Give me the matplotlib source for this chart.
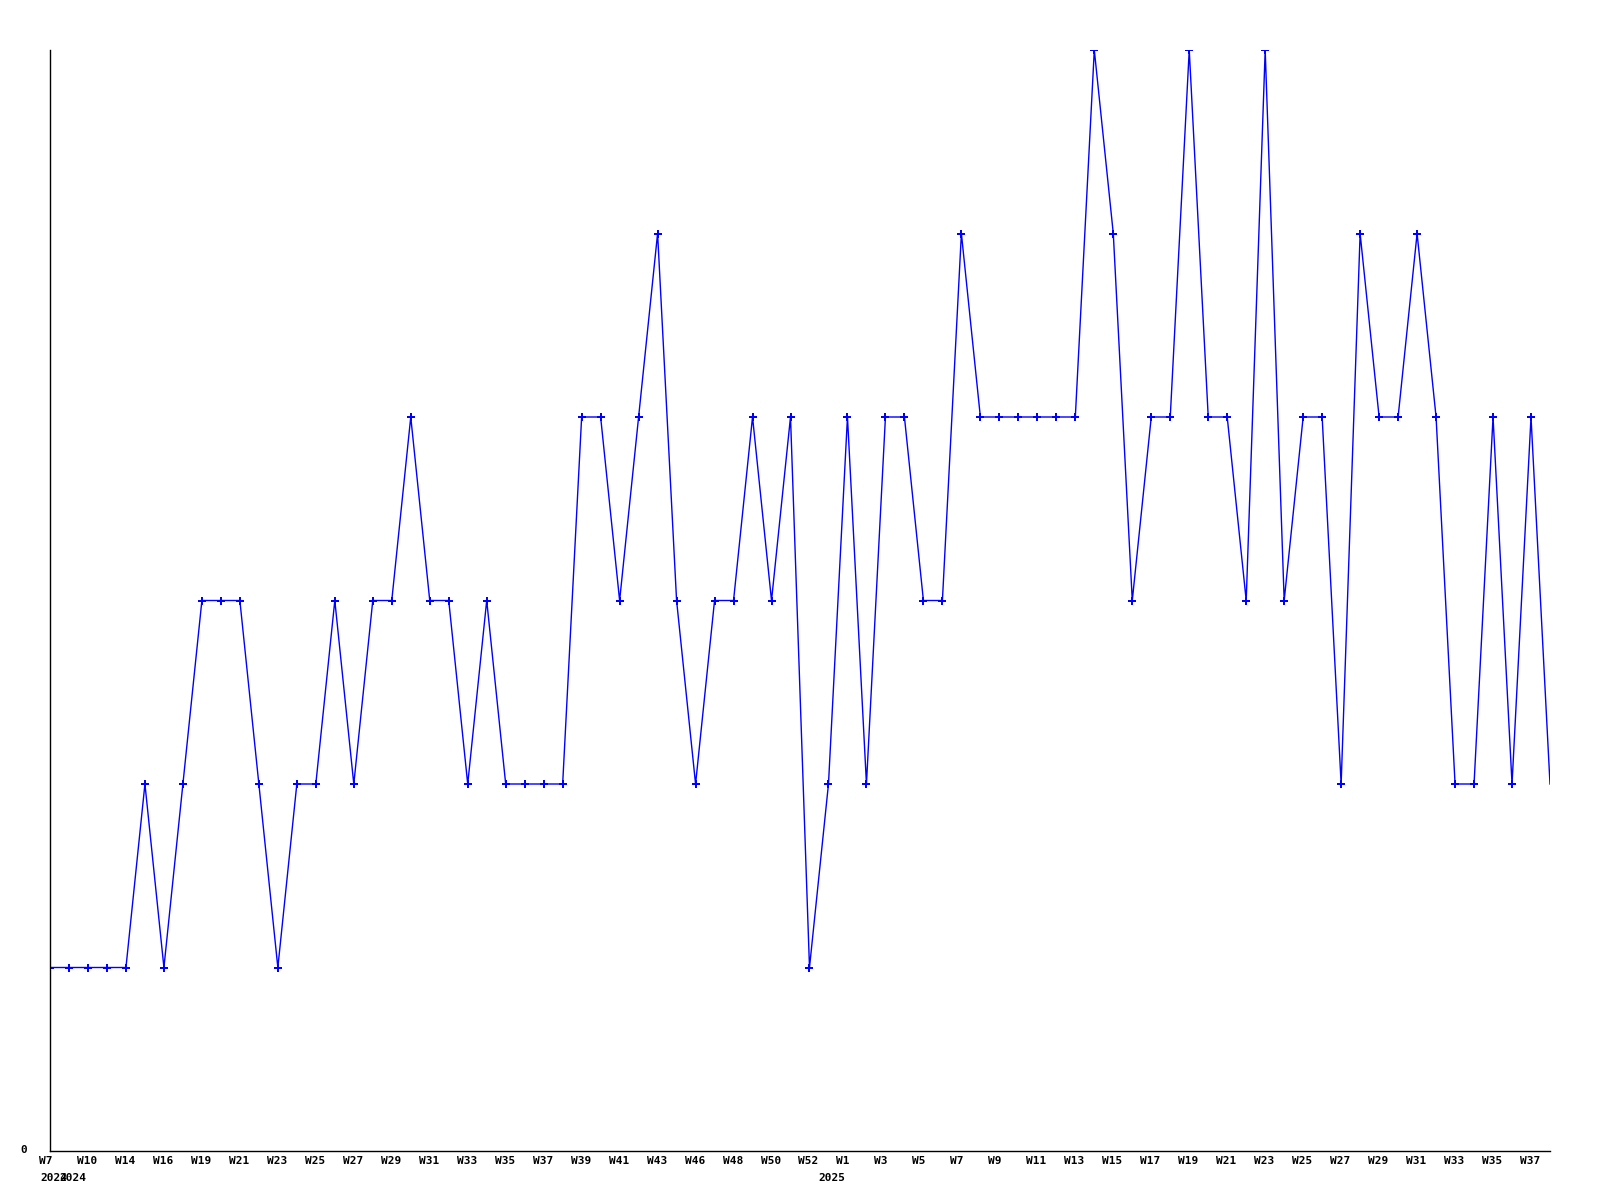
import matplotlib
matplotlib.use("Agg")
import matplotlib.pyplot as plt
import matplotlib.transforms as mtransforms

# weekly counts, one value per point (W7 2024 .. W38 2025, gaps in the weeks)
counts = [1, 1, 1, 1, 1, 2, 1, 2, 3, 3,
          3, 2, 1, 2, 2, 3, 2, 3, 3, 4,
          3, 3, 2, 3, 2, 2, 2, 2, 4, 4,
          3, 4, 5, 3, 2, 3, 3, 4, 3, 4,
          1, 2, 4, 2, 4, 4, 3, 3, 5, 4,
          4, 4, 4, 4, 4, 6, 5, 3, 4, 4,
          6, 4, 4, 3, 6, 3, 4, 4, 2, 5,
          4, 4, 5, 4, 2, 2, 4, 2, 4, 2]

# labels shown under every second point
week_labels = ["W7", "W10", "W14", "W16", "W19", "W21", "W23", "W25", "W27", "W29",
               "W31", "W33", "W35", "W37", "W39", "W41", "W43", "W46", "W48", "W50",
               "W52", "W1", "W3", "W5", "W7", "W9", "W11", "W13", "W15", "W17",
               "W19", "W21", "W23", "W25", "W27", "W29", "W31", "W33", "W35", "W37"]
year_labels = ["2024", "2024", "2025"]
year_index = [0, 1, 41]

BLUE = "#0000ff"

fig = plt.figure(figsize=(16, 12), dpi=100)
ax = fig.add_axes([50 / 1600, 1 - 1151 / 1200, 1500 / 1600, 1101 / 1200])

x = list(range(len(counts)))
ax.plot(x, counts, color=BLUE, linewidth=1.0, linestyle="-")
# last point is drawn without a marker
ax.plot(x[:-1], counts[:-1], linestyle="none", marker="P", markersize=5.5,
        color=BLUE, markeredgewidth=0)

ax.set_xlim(0, len(counts) - 1)
ax.set_ylim(0, 6)
for side in ["top", "right"]:
    ax.spines[side].set_visible(False)
for side in ["left", "bottom"]:
    ax.spines[side].set_color("black")
    ax.spines[side].set_linewidth(1.0)
ax.set_xticks([])
ax.set_yticks([])

font = dict(family="DejaVu Sans Mono", fontweight="bold", fontsize=8)
base = ax.get_xaxis_transform()

week_off = base + mtransforms.ScaledTranslation(-11 / 100, -10 / 100, fig.dpi_scale_trans)
for i, lab in enumerate(week_labels):
    ax.text(2 * i, 0, lab, transform=week_off, ha="left", va="center",
            clip_on=False, **font)

# the two 2024 labels overlap in the original chart as well
year_off = base + mtransforms.ScaledTranslation(-10 / 100, -27 / 100, fig.dpi_scale_trans)
for i, lab in zip(year_index, year_labels):
    ax.text(i, 0, lab, transform=year_off, ha="left", va="center",
            clip_on=False, **font)

# y axis only labels zero
fig.text(27 / 1600, 1 - 1150 / 1200, "0", ha="right", va="center", **font)

fig.savefig("out.png", dpi=100, facecolor="white")
